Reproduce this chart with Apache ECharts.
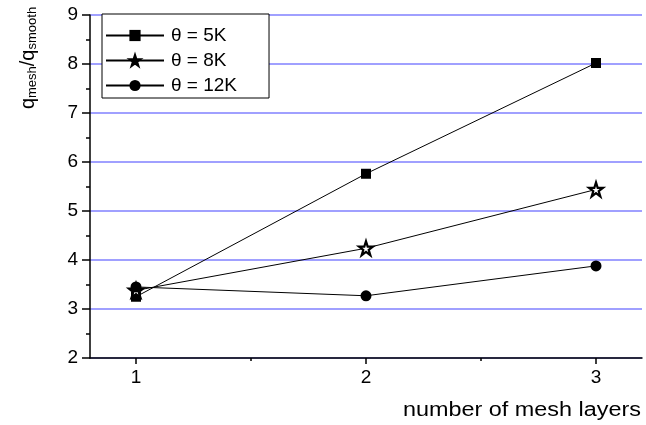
<!DOCTYPE html>
<html>
<head>
<meta charset="utf-8">
<script src="https://cdn.jsdelivr.net/npm/echarts@6/dist/echarts.min.js"></script>
<style>html,body{margin:0;padding:0;background:#fff}#c{width:646px;height:425px}</style>
</head>
<body>
<div id="c"></div>
<script>
var layers = [1, 2, 3];
var seriesNames = ['\u03b8 = 5K', '\u03b8 = 8K', '\u03b8 = 12K'];
var q5K = [3.25, 5.76, 8.02];
var q8K = [3.38, 4.24, 5.44];
var q12K = [3.45, 3.27, 3.88];
var xTickLabels = [1, 2, 3];
var xMinorTicks = [1.5, 2.5];

var FONT = 'Arial, "Liberation Sans", sans-serif';
var STAR = 'path://M50,0 L61.8,35.5 L99,35.5 L69,57.5 L80.5,93 L50,71 L19.5,93 L31,57.5 L1,35.5 L38.2,35.5 Z';

function pairs(vals) { return layers.map(function (x, i) { return [x, vals[i]]; }); }

var chart = echarts.init(document.getElementById('c'), null, {renderer: 'canvas'});
chart.setOption({
  animation: false,
  backgroundColor: '#fff',
  grid: {left: 90, right: 4, top: 15, bottom: 67, containLabel: false},
  xAxis: [{
    type: 'value', min: 0.8, max: 3.2,
    axisLine: {show: true, onZero: false, lineStyle: {color: '#000', width: 1.5}},
    axisTick: {show: true, customValues: xTickLabels, length: 6, lineStyle: {color: '#000', width: 1.5}},
    axisLabel: {show: true, customValues: xTickLabels, margin: 10, fontSize: 19, color: '#000', fontFamily: FONT},
    splitLine: {show: false}
  }, {
    type: 'value', min: 0.8, max: 3.2, position: 'bottom',
    axisLine: {show: false},
    axisTick: {show: true, customValues: xMinorTicks, length: 3, lineStyle: {color: '#000', width: 1.5}},
    axisLabel: {show: false},
    splitLine: {show: false}
  }],
  yAxis: {
    type: 'value', min: 2, max: 9, interval: 1,
    axisLine: {show: true, lineStyle: {color: '#000', width: 1.5}},
    axisTick: {show: true, length: 8, lineStyle: {color: '#000', width: 1.5}},
    minorTick: {show: true, splitNumber: 2, length: 4, lineStyle: {color: '#000', width: 1.5}},
    axisLabel: {margin: 12, fontSize: 19, color: '#000', fontFamily: FONT},
    splitLine: {show: true, lineStyle: {color: '#8080ff', width: 1.5}}
  },
  legend: {
    orient: 'vertical', left: 102, top: 14,
    backgroundColor: '#fff',
    borderColor: '#000', borderWidth: 1, borderRadius: 0,
    padding: [12, 32, 3, 3],
    itemWidth: 58, itemHeight: 14, itemGap: 6,
    textStyle: {fontSize: 19, color: '#000', fontFamily: FONT, padding: [0, 0, 0, 2]},
    data: [
      {name: seriesNames[0]},
      {name: seriesNames[1], itemStyle: {color: '#000', borderColor: '#000'}},
      {name: seriesNames[2]}
    ]
  },
  series: [{
    name: seriesNames[0], type: 'line', data: pairs(q5K),
    symbol: 'rect', symbolSize: 10,
    itemStyle: {color: '#000'}, lineStyle: {color: '#000', width: 1}
  }, {
    name: seriesNames[1], type: 'line', data: pairs(q8K),
    symbol: STAR, symbolSize: 14,
    itemStyle: {color: '#fff', borderColor: '#000', borderWidth: 2.2}, lineStyle: {color: '#000', width: 1}
  }, {
    name: seriesNames[2], type: 'line', data: pairs(q12K),
    symbol: 'circle', symbolSize: 11,
    itemStyle: {color: '#000'}, lineStyle: {color: '#000', width: 1}
  }],
  graphic: [{
    type: 'text', x: 641, y: 410, scaleX: 1.17,
    style: {text: 'number of mesh layers', fontSize: 20, fill: '#000', fontFamily: FONT, align: 'right', verticalAlign: 'middle'}
  }, {
    type: 'text', x: 28, y: 58, rotation: Math.PI / 2,
    style: {
      text: '{q|q}{s|mesh}{q|/q}{s|smooth}',
      align: 'center', verticalAlign: 'middle', fill: '#000', fontFamily: FONT,
      rich: {
        q: {fontSize: 20, fontFamily: FONT, fill: '#000'},
        s: {fontSize: 13, fontFamily: FONT, fill: '#000', padding: [9, 0, 0, 0]}
      }
    }
  }]
});
</script>
</body>
</html>
